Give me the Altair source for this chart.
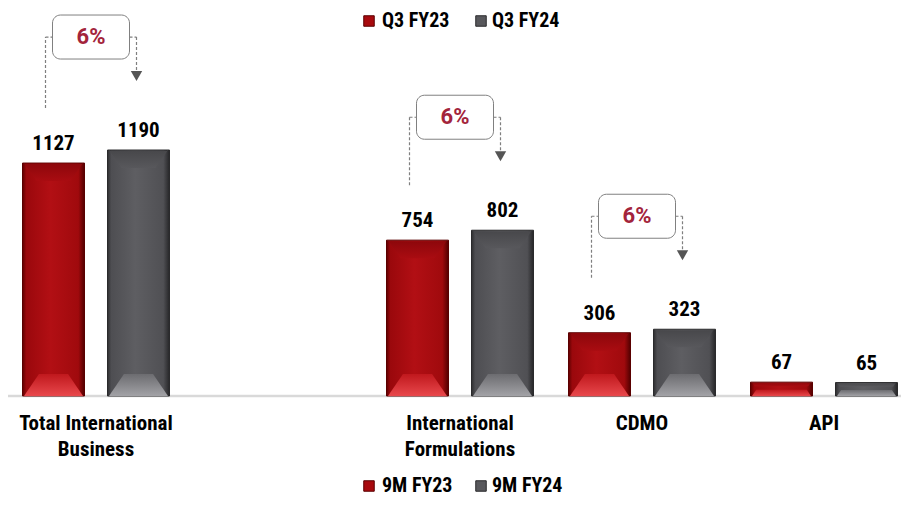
import altair as alt
import pandas as pd

# ---------------- data ----------------
categories = ["Total International Business", "", "International Formulations", "CDMO", "API"]
label_lines = [["Total International", "Business"], [], ["International", "Formulations"], ["CDMO"], ["API"]]
series = ["9M FY23", "9M FY24"]
fy23 = [1127, None, 754, 306, 67]
fy24 = [1190, None, 802, 323, 65]
growth = ["6%", None, "6%", "6%", None]
top_legend = ["Q3 FY23", "Q3 FY24"]
bottom_legend = ["9M FY23", "9M FY24"]

# ---------------- layout ----------------
W, H = 893, 490
STEP_PX = 182.0          # px between category centres
PX_PER_UNIT = 0.2067     # px per value unit
BASE_PX = 388.0          # baseline from top of plot
FIRST_PX = 88.0          # centre of first category

def xu(px):
    return px / STEP_PX

def yu(px):
    return px / PX_PER_UNIT

XD = [-FIRST_PX / STEP_PX, (W - FIRST_PX) / STEP_PX]
YD = [-(H - BASE_PX) / PX_PER_UNIT, BASE_PX / PX_PER_UNIT]

OFF = xu(42.5)
HALF = xu(31)
FONT = "Roboto Condensed, Roboto, sans-serif"

RED = "#a80a0e"
GRAY = "#58585c"


def X(f):
    return alt.X(f, type="quantitative", scale=alt.Scale(domain=XD, nice=False, zero=False), axis=None)


def X2(f):
    return alt.X2(f)


def Y(f):
    return alt.Y(f, type="quantitative", scale=alt.Scale(domain=YD, nice=False, zero=False), axis=None,
                 stack=None)


def Y2(f):
    return alt.Y2(f)


# bars table
rows = []
trap_rows = []
bid = 0
for i, (a, b) in enumerate(zip(fy23, fy24)):
    for s, v, sign in ((series[0], a, -1), (series[1], b, 1)):
        if v is None:
            continue
        c = i + sign * OFF
        x0, x1 = c - HALF, c + HALF
        rows.append(dict(series=s, v=v, zero=0, x=c, x0=x0, x1=x1, label=str(v)))
        # bottom (light) trapezoid and top (dark) trapezoid of the bevel
        hpx = min(v * PX_PER_UNIT * 0.45, 22.0)
        d = xu(hpx * 0.68)
        ins = xu(1.5)
        for px, py in ((x0 + ins, 0), (x0 + ins + d, yu(hpx)), (x1 - ins - d, yu(hpx)), (x1 - ins, 0)):
            trap_rows.append(dict(id=bid, series=s, part="bottom", x=px, lo=0, hi=py))
        tpx = min(v * PX_PER_UNIT * 0.3, 18.0)
        dt = xu(tpx * 0.7)
        for px, py in ((x0 + ins, v), (x0 + ins + dt, v - yu(tpx)), (x1 - ins - dt, v - yu(tpx)), (x1 - ins, v)):
            trap_rows.append(dict(id=bid, series=s, part="top", x=px, lo=py, hi=v - yu(1)))
        bid += 1
bars = pd.DataFrame(rows)
traps = pd.DataFrame(trap_rows)


def hgrad(stops):
    return alt.Gradient(gradient="linear", x1=0, x2=1, y1=0, y2=0,
                        stops=[alt.GradientStop(offset=o, color=c) for o, c in stops])


def vgrad(stops):
    return alt.Gradient(gradient="linear", x1=0, x2=0, y1=0, y2=1,
                        stops=[alt.GradientStop(offset=o, color=c) for o, c in stops])


red_body = hgrad([(0, "#5e0000"), (0.06, "#9a080c"), (0.45, "#b20f14"), (0.9, "#a00a0d"), (1, "#520000")])
gray_body = hgrad([(0, "#2e2e30"), (0.06, "#4e4e52"), (0.45, "#5e5e62"), (0.9, "#505054"), (1, "#262628")])
red_bot = vgrad([(0, "#c0181d"), (1, "#e8484c")])
gray_bot = vgrad([(0, "#6c6c70"), (1, "#a2a2a6")])
red_top = vgrad([(0, "#8c070b"), (1, "#a90c11")])
gray_top = vgrad([(0, "#47474a"), (1, "#58585c")])

layers = []

# axis line
axis_df = pd.DataFrame({"x": [XD[0]], "x2": [XD[1]], "y": [0]})
layers.append(alt.Chart(axis_df).mark_rule(color="#d9d9d9", strokeWidth=2.5).encode(
    x=X("x"), x2=X2("x2"), y=Y("y")))

for s, body, bot, top, stroke in ((series[0], red_body, red_bot, red_top, "#5a0000"),
                                  (series[1], gray_body, gray_bot, gray_top, "#2a2a2c")):
    d = bars[bars.series == s]
    layers.append(alt.Chart(d).mark_rect(color=body, stroke=stroke, strokeWidth=1).encode(
        x=X("x0"), x2=X2("x1"), y=Y("zero"), y2=Y2("v")))
    tb = traps[(traps.series == s) & (traps.part == "bottom")]
    layers.append(alt.Chart(tb).mark_area(color=bot, opacity=1, interpolate="linear").encode(
        x=X("x"), y=Y("lo"), y2=Y2("hi"), detail="id:N"))
    tt = traps[(traps.series == s) & (traps.part == "top")]
    layers.append(alt.Chart(tt).mark_area(color=top, opacity=1, interpolate="linear").encode(
        x=X("x"), y=Y("lo"), y2=Y2("hi"), detail="id:N"))

# value labels
layers.append(alt.Chart(bars).mark_text(font=FONT, fontSize=21, fontWeight="bold", color="#000000",
                                        baseline="alphabetic", dy=-13).encode(
    x=X("x"), y=Y("v"), text="label:N"))

# category labels
lab_rows = []
for i, lines in enumerate(label_lines):
    for j, t in enumerate(lines):
        lab_rows.append(dict(x=i, y=-yu(28 + 26 * j), t=t))
labs = pd.DataFrame(lab_rows)
layers.append(alt.Chart(labs).mark_text(font=FONT, fontSize=21, fontWeight="bold", color="#000000",
                                        baseline="middle", align="center").encode(
    x=X("x"), y=Y("y"), text="t:N"))

# growth callouts
seg_rows, box_rows, tri_rows = [], [], []
for i, g in enumerate(growth):
    if g is None:
        continue
    rx = i - OFF
    gx = i + OFF
    lx = rx - xu(8)
    ax = gx - xu(2)
    line_y = fy24[i] + yu(113)
    left_bottom = fy23[i] + yu(55)
    tip = fy24[i] + yu(68)
    seg_rows += [
        dict(x=lx, x2=lx, y=left_bottom, y2=line_y),
        dict(x=lx, x2=lx + xu(7), y=line_y, y2=line_y),
        dict(x=ax - xu(7), x2=ax, y=line_y, y2=line_y),
        dict(x=ax, x2=ax, y=line_y, y2=tip + yu(10)),
    ]
    box_rows.append(dict(x=lx + xu(7), x2=ax - xu(7), y=line_y - yu(22), y2=line_y + yu(22),
                         cx=(lx + ax) / 2, cy=line_y, t=g))
    tri_rows.append(dict(x=ax, y=tip + yu(6)))
segs = pd.DataFrame(seg_rows)
boxes = pd.DataFrame(box_rows)
tris = pd.DataFrame(tri_rows)

layers.append(alt.Chart(segs).mark_rule(color="#7f7f7f", strokeWidth=1.2, strokeDash=[3, 2]).encode(
    x=X("x"), x2=X2("x2"), y=Y("y"), y2=Y2("y2")))
layers.append(alt.Chart(boxes).mark_rect(fill="#ffffff", stroke="#808080", strokeWidth=1, cornerRadius=8).encode(
    x=X("x"), x2=X2("x2"), y=Y("y"), y2=Y2("y2")))
layers.append(alt.Chart(boxes).mark_text(font="Roboto", fontSize=22, fontWeight="bold", color="#a3243b",
                                         baseline="middle", align="center").encode(
    x=X("cx"), y=Y("cy"), text="t:N"))
layers.append(alt.Chart(tris).mark_point(shape="triangle-down", filled=True, size=130, color="#555555", opacity=1).encode(
    x=X("x"), y=Y("y")))

# legends
leg_rows = []
for labels, ypx in ((top_legend, 13), (bottom_legend, H - 12)):
    for k, (t, sx, tx) in enumerate(zip(labels, (361, 473), (374, 484))):
        leg_rows.append(dict(sx=xu(sx - FIRST_PX), tx=xu(tx - FIRST_PX), y=yu(BASE_PX - ypx), t=t,
                             c=[RED, GRAY][k], sc=["#5a0000", "#2a2a2c"][k]))
leg = pd.DataFrame(leg_rows)
layers.append(alt.Chart(leg).mark_square(size=110, filled=True, opacity=1, strokeWidth=1).encode(
    x=X("sx"), y=Y("y"), color=alt.Color("c:N", scale=None), stroke=alt.Stroke("sc:N", scale=None)))
layers.append(alt.Chart(leg).mark_text(font=FONT, fontSize=20, fontWeight="bold", color="#000000",
                                       baseline="middle", align="left").encode(
    x=X("tx"), y=Y("y"), text="t:N"))

chart = alt.layer(*layers).properties(
    width=W, height=H, autosize=alt.AutoSizeParams(type="none"), padding=0, background="#ffffff"
).configure_view(stroke=None)

chart.save("out.html", embed_options={"renderer": "svg", "actions": False})
